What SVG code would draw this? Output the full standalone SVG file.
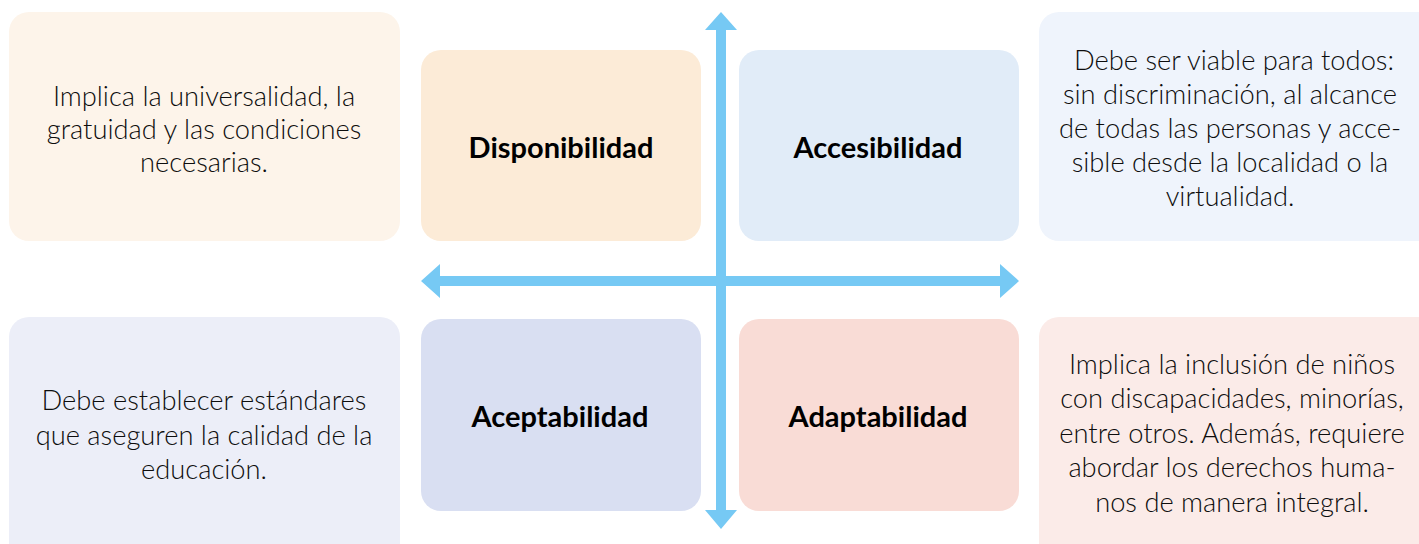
<svg xmlns="http://www.w3.org/2000/svg" width="1419" height="544" viewBox="0 0 1419 544">
<style>
.desc{font-family:Lato,"Liberation Sans",sans-serif;font-weight:300;font-size:27.3px;fill:#0d0d0d;text-anchor:middle}
.lbl{font-family:Lato,"Liberation Sans",sans-serif;font-weight:700;font-size:29px;fill:#000;text-anchor:middle}
.arrow{fill:#76C9F4}
</style>
<rect width="1419" height="544" fill="#fff"/>
<g id="desc-disponibilidad">
<rect x="9" y="12" width="391" height="229" rx="20" fill="#FDF4EA"/>
<text class="desc" x="204" y="106">Implica la universalidad, la</text>
<text class="desc" x="204" y="139">gratuidad y las condiciones</text>
<text class="desc" x="204" y="172">necesarias.</text>
</g>
<g id="desc-accesibilidad">
<rect x="1039" y="12" width="400" height="229" rx="20" fill="#EFF4FC"/>
<text class="desc" x="1234" y="70">Debe ser viable para todos:</text>
<text class="desc" x="1230" y="104">sin discriminación, al alcance</text>
<text class="desc" x="1230" y="138">de todas las personas y acce-</text>
<text class="desc" x="1230" y="172">sible desde la localidad o la</text>
<text class="desc" x="1230" y="206">virtualidad.</text>
</g>
<g id="desc-aceptabilidad">
<rect x="9" y="317" width="391" height="250" rx="20" fill="#ECEEF8"/>
<text class="desc" x="204" y="410">Debe establecer estándares</text>
<text class="desc" x="204" y="445">que aseguren la calidad de la</text>
<text class="desc" x="204" y="479">educación.</text>
</g>
<g id="desc-adaptabilidad">
<rect x="1039" y="317" width="400" height="250" rx="20" fill="#FBEBE8"/>
<text class="desc" x="1232" y="374">Implica la inclusión de niños</text>
<text class="desc" x="1232" y="408">con discapacidades, minorías,</text>
<text class="desc" x="1232" y="443">entre otros. Además, requiere</text>
<text class="desc" x="1232" y="477">abordar los derechos huma-</text>
<text class="desc" x="1232" y="512">nos de manera integral.</text>
</g>
<g id="disponibilidad">
<rect x="421" y="50" width="280" height="191" rx="20" fill="#FCEBD7"/>
<text class="lbl" x="561" y="158">Disponibilidad</text>
</g>
<g id="accesibilidad">
<rect x="739" y="50" width="280" height="191" rx="20" fill="#E1ECF8"/>
<text class="lbl" x="878" y="158">Accesibilidad</text>
</g>
<g id="aceptabilidad">
<rect x="421" y="319" width="280" height="192" rx="20" fill="#D9DFF2"/>
<text class="lbl" x="560" y="427">Aceptabilidad</text>
</g>
<g id="adaptabilidad">
<rect x="739" y="319" width="280" height="192" rx="20" fill="#F9DCD6"/>
<text class="lbl" x="878" y="427">Adaptabilidad</text>
</g>
<g id="connectors">
<polygon class="arrow" points="721,12 737,30 726,30 726,510 737,510 721,529 705,510 716,510 716,30 705,30"/>
<polygon class="arrow" points="421,281 440,264 440,276 1000,276 1000,264 1019,281 1000,298 1000,286 440,286 440,298"/>
</g>
</svg>
